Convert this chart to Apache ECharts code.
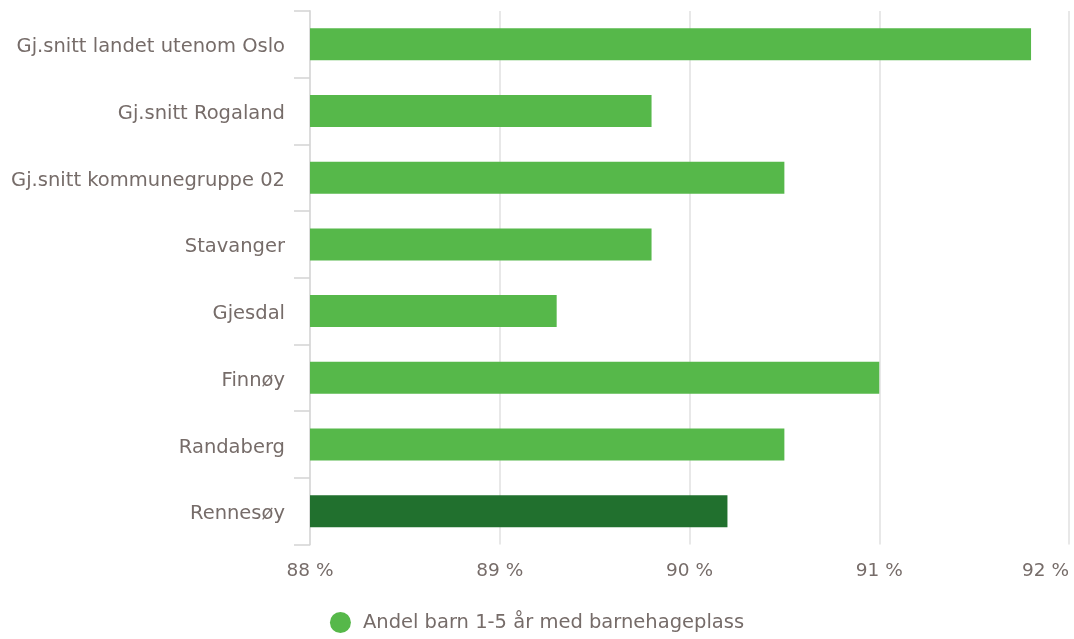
<!DOCTYPE html>
<html><head><meta charset="utf-8">
<script src="https://cdn.jsdelivr.net/npm/echarts@6/dist/echarts.min.js"></script>
<style>html,body{margin:0;padding:0;background:#fff}#c{width:1074px;height:639px}</style>
</head><body><div id="c"></div>
<script>
const categories = ["Gj.snitt landet utenom Oslo","Gj.snitt Rogaland","Gj.snitt kommunegruppe 02","Stavanger","Gjesdal","Finnøy","Randaberg","Rennesøy"];
const values = [91.8, 89.8, 90.5, 89.8, 89.3, 91.0, 90.5, 90.2];
const highlight = "Rennesøy";
const seriesName = "Andel barn 1-5 år med barnehageplass";
const textColor = "#766c69";
const font = "'DejaVu Sans', sans-serif";
const chart = echarts.init(document.getElementById('c'));
chart.setOption({
  animation:false,
  grid:{left:310,right:5,top:11,bottom:94.5,containLabel:false,outerBoundsMode:'none'},
  legend:{bottom:1,left:'center',icon:'circle',itemWidth:21,itemHeight:21,itemGap:11,
    textStyle:{color:textColor,fontSize:19.5,fontFamily:font,padding:[0,0,0,7]},data:[seriesName]},
  xAxis:{type:'value',min:88,max:92,interval:1,
    axisLine:{show:false},axisTick:{show:false},
    splitLine:{lineStyle:{color:'#e8e8e8',width:2}},
    axisLabel:{formatter:'{value} %',color:textColor,fontSize:18.5,fontFamily:font,margin:17,alignMaxLabel:'right'}},
  yAxis:{type:'category',inverse:true,data:categories,
    axisLine:{show:true,lineStyle:{color:'#dcdcdc',width:2}},
    axisTick:{show:true,length:16,alignWithLabel:false,lineStyle:{color:'#d4d4d4',width:1.5}},
    axisLabel:{color:textColor,fontFamily:font,margin:25,
      formatter:v=>'{a|'+v+'}',
      rich:{a:{color:textColor,fontSize:19.5,fontFamily:font,padding:[6,0,0,0]}}}},
  series:[{name:seriesName,type:'bar',barWidth:32,
    itemStyle:{color:'#56b84a'},
    data:values.map((v,i)=>categories[i]===highlight?{value:v,itemStyle:{color:'#21702e'}}:v)}]
});
</script></body></html>
